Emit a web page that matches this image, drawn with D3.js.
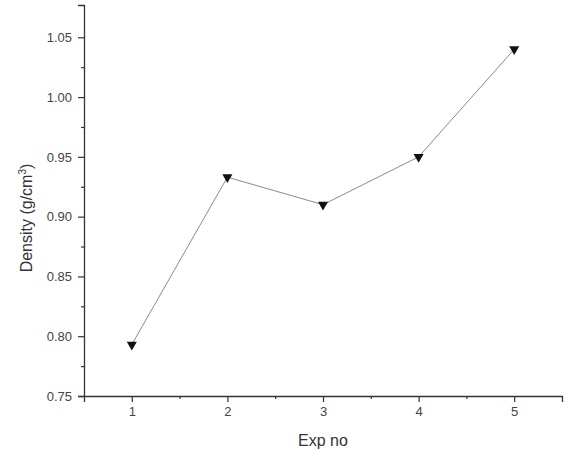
<!DOCTYPE html>
<html>
<head>
<meta charset="utf-8">
<script src="https://cdn.jsdelivr.net/npm/d3@7"></script>
<style>
  body { margin: 0; background: #fff; }
  text { font-family: "Liberation Sans", Arial, sans-serif; }
</style>
</head>
<body>
<div id="chart"></div>
<script>
"use strict";

// data
var expNo = [1, 2, 3, 4, 5];
var density = [0.793, 0.933, 0.910, 0.950, 1.040];
var xTicks = [1, 2, 3, 4, 5];
var yTicks = [0.75, 0.80, 0.85, 0.90, 0.95, 1.00, 1.05];

var width = 568;
var height = 455;
var axisColor = "#333";
var textColor = "#444";

var x = d3.scaleLinear().domain([0.5, 5.5]).range([84, 562]);
var y = d3.scaleLinear().domain([0.75, 1.077]).range([396, 5]);

var svg = d3.select("#chart")
  .append("svg")
  .attr("width", width)
  .attr("height", height);

// x axis with minor ticks at halves
svg.append("g")
  .attr("transform", "translate(0," + y(0.75) + ")")
  .call(d3.axisBottom(x).tickValues(xTicks).tickFormat(d3.format("d")).tickSize(6).tickPadding(5));
svg.append("g")
  .attr("transform", "translate(0," + y(0.75) + ")")
  .call(d3.axisBottom(x).tickValues([1.5, 2.5, 3.5, 4.5]).tickFormat("").tickSize(3))
  .select(".domain").remove();

// y axis with minor ticks between
svg.append("g")
  .attr("transform", "translate(" + x(0.5) + ",0)")
  .call(d3.axisLeft(y).tickValues(yTicks).tickFormat(d3.format(".2f")).tickSize(6).tickPadding(6));
svg.append("g")
  .attr("transform", "translate(" + x(0.5) + ",0)")
  .call(d3.axisLeft(y).tickValues([0.775, 0.825, 0.875, 0.925, 0.975, 1.025]).tickFormat("").tickSize(3))
  .select(".domain").remove();

svg.selectAll(".domain").attr("stroke", axisColor).attr("stroke-width", 1.3);
svg.selectAll(".tick line").attr("stroke", axisColor).attr("stroke-width", 1.2);
svg.selectAll(".tick text")
  .attr("fill", textColor)
  .style("font-family", "'Liberation Sans', Arial, sans-serif")
  .style("font-size", "13px");

// connecting line
var points = expNo.map(function(d, i) {
  return [d, density[i]];
});

svg.append("path")
  .datum(points)
  .attr("fill", "none")
  .attr("stroke", "#8a8a8a")
  .attr("stroke-width", 1)
  .attr("d", d3.line()
    .x(function(p) { return x(p[0]); })
    .y(function(p) { return y(p[1]); }));

// down-triangle markers
svg.append("g")
  .selectAll("path")
  .data(points)
  .enter()
  .append("path")
    .attr("transform", function(p) {
      return "translate(" + x(p[0]) + "," + y(p[1]) + ") rotate(180)";
    })
    .attr("d", d3.symbol().type(d3.symbolTriangle).size(44))
    .attr("fill", "#111");

// axis titles
svg.append("text")
  .attr("x", x(3))
  .attr("y", 446)
  .attr("text-anchor", "middle")
  .attr("fill", "#333")
  .style("font-size", "16px")
  .text("Exp no");

var yTitle = svg.append("text")
  .attr("transform", "translate(32,218) rotate(-90)")
  .attr("text-anchor", "middle")
  .attr("fill", "#333")
  .style("font-size", "16px");
yTitle.append("tspan").text("Density (g/cm");
yTitle.append("tspan").attr("dy", -6).style("font-size", "10px").text("3");
yTitle.append("tspan").attr("dy", 6).text(")");
</script>
</body>
</html>
